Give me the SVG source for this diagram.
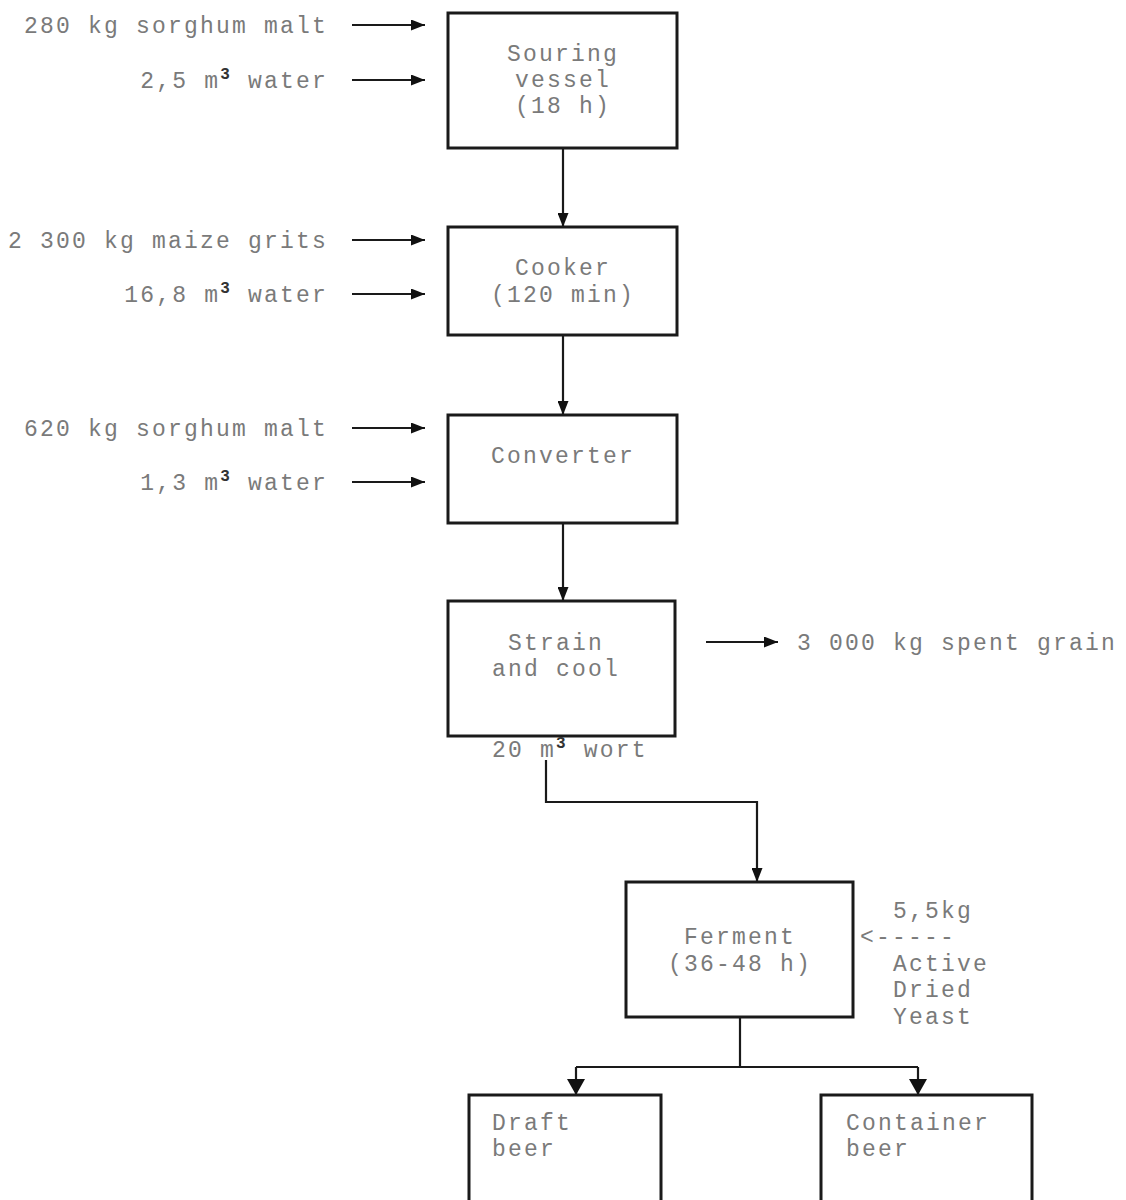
<svg xmlns="http://www.w3.org/2000/svg" width="1126" height="1200" viewBox="0 0 1126 1200">
<defs>
<marker id="ah" viewBox="0 0 14 11" refX="14" refY="5.5" markerWidth="14" markerHeight="11" markerUnits="userSpaceOnUse" orient="auto">
<path d="M0,0 L14,5.5 L0,11 Z" fill="#111"/>
</marker>
<marker id="ahb" viewBox="0 0 16 18" refX="16" refY="9" markerWidth="16" markerHeight="18" markerUnits="userSpaceOnUse" orient="auto">
<path d="M0,0 L16,9 L0,18 Z" fill="#111"/>
</marker>
<style>
text{font-family:"Liberation Mono","DejaVu Sans Mono",monospace;font-size:23px;fill:#7a7a7a;letter-spacing:2.2px}
.box{fill:#fff;stroke:#1a1a1a;stroke-width:3}
.ln{fill:none;stroke:#1a1a1a;stroke-width:2.2}
.sup{font-size:16px;fill:#333;font-weight:bold}
</style>
</defs>
<rect width="1126" height="1200" fill="#fff"/>
<g id="connectors">
<path class="ln" d="M352,25 H425" marker-end="url(#ah)"/>
<path class="ln" d="M352,80 H425" marker-end="url(#ah)"/>
<path class="ln" d="M563,148 V227" marker-end="url(#ah)"/>
<path class="ln" d="M352,240 H425" marker-end="url(#ah)"/>
<path class="ln" d="M352,294 H425" marker-end="url(#ah)"/>
<path class="ln" d="M563,335 V415" marker-end="url(#ah)"/>
<path class="ln" d="M352,428 H425" marker-end="url(#ah)"/>
<path class="ln" d="M352,482 H425" marker-end="url(#ah)"/>
<path class="ln" d="M563,523 V601" marker-end="url(#ah)"/>
<path class="ln" d="M706,642 H778" marker-end="url(#ah)"/>
<path class="ln" d="M546,760 V802 H757 V882" marker-end="url(#ah)"/>
<path class="ln" d="M740,1017 V1067"/>
<path class="ln" d="M576,1067 H918"/>
<path class="ln" d="M576,1067 V1095" marker-end="url(#ahb)"/>
<path class="ln" d="M918,1067 V1095" marker-end="url(#ahb)"/>
</g>
<g id="inputs">
<text x="328" y="33" text-anchor="end">280 kg sorghum malt</text>
<text x="328" y="88" text-anchor="end">2,5 m<tspan class="sup" dy="-9">3</tspan><tspan dy="9"> water</tspan></text>
<text x="328" y="248" text-anchor="end">2 300 kg maize grits</text>
<text x="328" y="302" text-anchor="end">16,8 m<tspan class="sup" dy="-9">3</tspan><tspan dy="9"> water</tspan></text>
<text x="328" y="436" text-anchor="end">620 kg sorghum malt</text>
<text x="328" y="490" text-anchor="end">1,3 m<tspan class="sup" dy="-9">3</tspan><tspan dy="9"> water</tspan></text>
<text x="797" y="650">3 000 kg spent grain</text>
</g>
<g id="souring">
<rect class="box" x="448" y="13" width="229" height="135"/>
<text x="563" y="61" text-anchor="middle">Souring</text>
<text x="563" y="87" text-anchor="middle">vessel</text>
<text x="563" y="113" text-anchor="middle">(18 h)</text>
</g>
<g id="cooker">
<rect class="box" x="448" y="227" width="229" height="108"/>
<text x="563" y="275" text-anchor="middle">Cooker</text>
<text x="563" y="302" text-anchor="middle">(120 min)</text>
</g>
<g id="converter">
<rect class="box" x="448" y="415" width="229" height="108"/>
<text x="563" y="463" text-anchor="middle">Converter</text>
</g>
<g id="strain">
<rect class="box" x="448" y="601" width="227" height="135"/>
<text x="556" y="650" text-anchor="middle">Strain</text>
<text x="556" y="676" text-anchor="middle">and cool</text>
<text x="492" y="757">20 m<tspan class="sup" dy="-9">3</tspan><tspan dy="9"> wort</tspan></text>
</g>
<g id="ferment">
<rect class="box" x="626" y="882" width="227" height="135"/>
<text x="740" y="944" text-anchor="middle">Ferment</text>
<text x="740" y="971" text-anchor="middle">(36-48 h)</text>
</g>
<g id="yeast">
<text x="893" y="918">5,5kg</text>
<text x="860" y="944">&lt;-----</text>
<text x="893" y="971">Active</text>
<text x="893" y="997">Dried</text>
<text x="893" y="1024">Yeast</text>
</g>
<g id="draft">
<rect class="box" x="469" y="1095" width="192" height="115"/>
<text x="492" y="1130">Draft</text>
<text x="492" y="1156">beer</text>
</g>
<g id="container">
<rect class="box" x="821" y="1095" width="211" height="115"/>
<text x="846" y="1130">Container</text>
<text x="846" y="1156">beer</text>
</g>
</svg>
